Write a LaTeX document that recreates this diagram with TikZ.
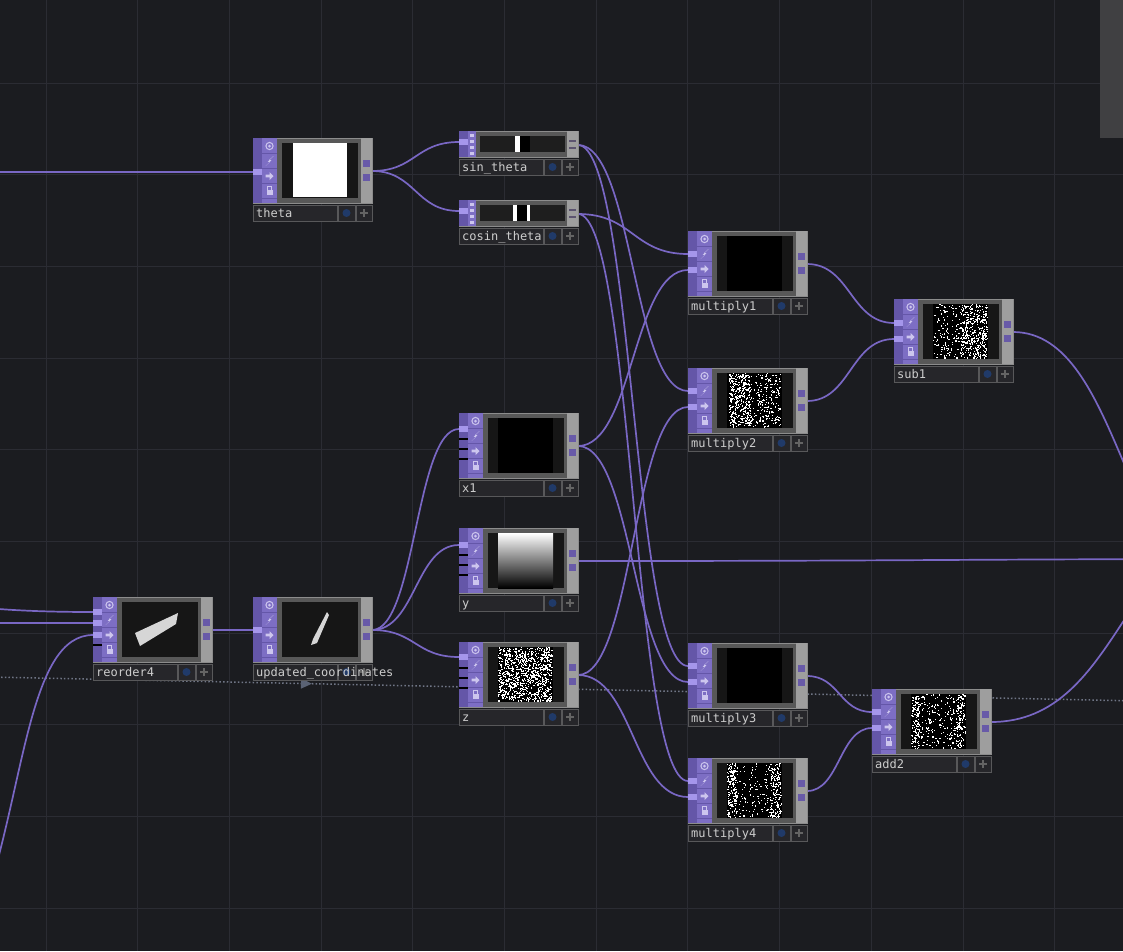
\documentclass[tikz,border=0pt]{standalone}
\usepackage{fontspec}
\setmonofont{DejaVu Sans Mono}
\usepackage{tikz}
\usetikzlibrary{calc}
\usetikzlibrary{arrows.meta}
\usetikzlibrary{decorations.markings}
\pgfdeclarelayer{bg}
\pgfsetlayers{bg,main}
\definecolor{tdbgcol}{RGB}{27,28,32}
\definecolor{tdgridcol}{RGB}{43,44,51}
\definecolor{tdwirecol}{RGB}{121,103,196}
\definecolor{tdstripcol}{RGB}{100,86,168}
\definecolor{tdiconcol}{RGB}{125,110,196}
\definecolor{tdiconfgcol}{RGB}{205,198,238}
\definecolor{tdtabcol}{RGB}{165,150,235}
\definecolor{tdedgecol}{RGB}{140,140,140}
\definecolor{tdgraycol}{RGB}{88,88,88}
\definecolor{tdviewcol}{RGB}{22,22,22}
\definecolor{tdrightcol}{RGB}{158,158,158}
\definecolor{tdportcol}{RGB}{104,90,168}
\definecolor{tdmarkcol}{RGB}{92,84,112}
\definecolor{tdnamecol}{RGB}{38,38,42}
\definecolor{tdnameedge}{RGB}{88,88,90}
\definecolor{tdtextcol}{RGB}{205,205,205}
\definecolor{tdbluecol}{RGB}{32,58,105}
\definecolor{tdpluscol}{RGB}{100,100,100}
\definecolor{tddotcol}{RGB}{112,118,134}
\definecolor{tdarrowcol}{RGB}{90,98,116}
\definecolor{tdscrollcol}{RGB}{64,64,66}
\definecolor{tdchopview}{RGB}{30,30,30}
\definecolor{tdimgcol}{RGB}{214,214,214}
\tikzstyle{tdframe}=[draw=tdedgecol,fill=tdgraycol,line width=1pt,anchor=north west,minimum width=119pt,minimum height=65pt,inner sep=0pt,outer sep=0pt]
\tikzstyle{tdstrip}=[fill=tdstripcol]
\tikzstyle{tdicons}=[fill=tdiconcol]
\tikzstyle{tdsep}=[draw=tdstripcol,line width=0.8pt]
\tikzstyle{tdicon}=[draw=tdiconfgcol,line width=1pt]
\tikzstyle{tdiconfg}=[fill=tdiconfgcol]
\tikzstyle{tdtab}=[fill=tdtabcol]
\tikzstyle{tdright}=[fill=tdrightcol]
\tikzstyle{tdport}=[fill=tdportcol]
\tikzstyle{tdmark}=[draw=tdmarkcol,line width=1.6pt]
\tikzstyle{tdview}=[fill=tdviewcol]
\tikzstyle{tdname}=[draw=tdnameedge,fill=tdnamecol,line width=0.8pt,anchor=north west,minimum width=84pt,minimum height=16pt,inner sep=0pt,outer sep=0pt]
\tikzstyle{tdbtn}=[draw=tdnameedge,fill=tdnamecol,line width=0.8pt,anchor=north west,minimum width=17pt,minimum height=16pt,inner sep=0pt,outer sep=0pt]
\tikzstyle{tdblue}=[fill=tdbluecol]
\tikzstyle{tdplus}=[draw=tdpluscol,line width=1.4pt]
\tikzstyle{tdtext}=[anchor=base west,inner sep=0pt,text=tdtextcol,font=\fontsize{12}{14}\selectfont\ttfamily]
\tikzstyle{tdwire}=[line width=1.7pt,color=tdwirecol]
\tikzstyle{tdgrid}=[draw=tdgridcol,line width=0.9pt]
\tikzstyle{tddot}=[draw=tddotcol,line width=1.5pt,dash pattern=on 1.5pt off 2.2pt]

% label bar under a node
\newcommand{\tdlabel}[2]{%
  \node[tdname] (#1-name) at ($(#1.south west)+(0,2)$) {};
  \node[tdbtn] (#1-dot) at ($(#1-name.north east)+(1,0)$) {};
  \fill[tdblue] (#1-dot.center) circle (4pt);
  \node[tdbtn,minimum width=16pt] (#1-add) at ($(#1-dot.north east)+(1,0)$) {};
  \draw[tdplus] ($(#1-add.center)+(-4,0)$) -- ++(8,0);
  \draw[tdplus] ($(#1-add.center)+(0,-4)$) -- ++(0,8);
  \node[tdtext] at ($(#1-name.north west)+(3,12)$) {#2};
}
% TOP node: name, x, y, label
\newcommand{\tdtop}[4]{%
  \node[tdframe] (#1) at (#2,#3) {};
  \fill[tdstrip] (#1.north west) rectangle ++(9,65);
  \fill[tdicons] ($(#1.north west)+(9,0)$) rectangle ++(15,65);
  \foreach \sy in {15.5,30.5,45.5,60.5}
    \draw[tdsep] ($(#1.north west)+(9,\sy)$) -- ++(15,0);
  \begin{scope}[shift={($(#1.north west)+(16.5,0)$)}]
    \draw[tdicon] (0,8) circle (3.6pt);
    \fill[tdiconfg] (0,8) circle (1.5pt);
    \fill[tdiconfg] (4,18) -- (-1.8,23.8) -- (0.6,23.8) -- (-4,28) -- (1.8,22.2) -- (-0.6,22.2) -- cycle;
    \fill[tdiconfg] (-4,36.7) -- (0,36.7) -- (0,34) -- (4,38) -- (0,42) -- (0,39.3) -- (-4,39.3) -- cycle;
    \fill[tdiconfg] (-3,52) rectangle (3,57);
    \draw[tdicon] (-1.8,52) -- (-1.8,48.8) -- (1.8,48.8) -- (1.8,52);
  \end{scope}
  \fill[tdright] ($(#1.north east)+(-11,0)$) rectangle ++(11,65);
  \fill[tdport] ($(#1.north east)+(-9,22)$) rectangle ++(7,7);
  \fill[tdport] ($(#1.north east)+(-9,36)$) rectangle ++(7,7);
  \fill[tdview] ($(#1.north west)+(29,5)$) rectangle ++(76,55);
  \tdlabel{#1}{#4}
  \coordinate (#1-img) at ($(#1.north west)+(39,5)$);
  \coordinate (#1-out) at ($(#1.north east)+(0,33)$);
}
% CHOP node: name, x, y, label
\newcommand{\tdchop}[4]{%
  \node[tdframe,minimum height=26pt] (#1) at (#2,#3) {};
  \fill[tdstrip] (#1.north west) rectangle ++(9,26);
  \fill[tdicons] ($(#1.north west)+(9,0)$) rectangle ++(8,26);
  \foreach \sy in {2.5,8.5,14.5,20.5}
    \fill[tdiconfg] ($(#1.north west)+(11,\sy)$) rectangle ++(4,3.5);
  \fill[tdright] ($(#1.north east)+(-11,0)$) rectangle ++(11,26);
  \draw[tdmark] ($(#1.north east)+(-9,10)$) -- ++(7,0);
  \draw[tdmark] ($(#1.north east)+(-9,17)$) -- ++(7,0);
  \fill[tdchopview] ($(#1.north west)+(21,5)$) rectangle ++(85,16);
  \tdlabel{#1}{#4}
  \coordinate (#1-img) at ($(#1.north west)+(21,5)$);
  \coordinate (#1-out) at ($(#1.north east)+(0,14)$);
}
% input tab: node, offset, coordinate
\newcommand{\tdin}[3]{%
  \fill[tdtab] ($(#1.north west)+(0,#2-3)$) rectangle ++(9,6);
  \coordinate (#3) at ($(#1.north west)+(0,#2)$);
}
\newcommand{\tdslot}[2]{\fill[black] ($(#1.north west)+(0,#2)$) rectangle ++(9,1.6);}
% noise dots: node, from, to, count
\newcommand{\tdnoise}[4]{%
  \begin{scope}[shift={(#1-img)}]
    \foreach \q in {1,...,#4}
      \fill[white] ({#2+rnd*(#3-#2)},{rnd*53.8}) rectangle ++(1.2,1.2);
  \end{scope}
}
% wire between two ports
\newcommand{\wire}[2]{%
  \draw[tdwire] let \p1=(#1), \p2=(#2), \n1={0.5*(\x2-\x1)} in
    (\p1) .. controls +(\n1,0pt) and +(-\n1,0pt) .. (\p2);
}

\begin{document}
\begin{tikzpicture}[x=1pt,y=-1pt]
\pgfmathsetseed{11}
\useasboundingbox (0,0) rectangle (1123,951);

% background and grid
\begin{pgfonlayer}{bg}
\fill[tdbgcol] (0,0) rectangle (1123,951);
\foreach \i in {0,...,11} \draw[tdgrid] ({46+91.7*\i},0) -- ++(0,951);
\foreach \i in {0,...,9} \draw[tdgrid] (0,{83+91.7*\i}) -- ++(1123,0);
\end{pgfonlayer}

% angle
\tdtop{theta}{253}{138}{theta}
\fill[white] ($(theta-img)+(1,0)$) rectangle ++(54,54);
\tdin{theta}{34}{theta-in}
\tdchop{sintheta}{459}{131}{sin\_theta}
\fill[white] ($(sintheta-img)+(35,0)$) rectangle ++(5,16);
\fill[black] ($(sintheta-img)+(40,0)$) rectangle ++(10,16);
\tdin{sintheta}{11}{sintheta-in}
\tdchop{costheta}{459}{200}{cosin\_theta}
\fill[white] ($(costheta-img)+(33,0)$) rectangle ++(4,16);
\fill[black] ($(costheta-img)+(37,0)$) rectangle ++(10,16);
\fill[white] ($(costheta-img)+(47,0)$) rectangle ++(3,16);
\tdin{costheta}{11}{costheta-in}

% coordinates
\tdtop{reorder}{93}{597}{reorder4}
\fill[tdimgcol] ($(reorder.north west)+(42,36)$) -- ($(reorder.north west)+(85,16)$) -- ($(reorder.north west)+(83,27)$) -- ($(reorder.north west)+(47,49)$) -- cycle;
\tdin{reorder}{15}{reorder-a}
\tdin{reorder}{26}{reorder-b}
\tdin{reorder}{38}{reorder-c}
\tdslot{reorder}{47}
\tdtop{update}{253}{597}{}
\fill[tdimgcol] ($(update.north west)+(74,15)$) -- ($(update.north west)+(76,18)$) -- ($(update.north west)+(64,46)$) -- ($(update.north west)+(58,48)$) -- ($(update.north west)+(60,42)$) -- cycle;
\node[tdtext] (updatetext) at ($(update-name.north west)+(3,12)$) {updated\_coordinates};
\tdin{update}{33}{update-in}

\tdtop{xone}{459}{413}{x1}
\fill[black] (xone-img) rectangle ++(55,55);
\tdin{xone}{16}{xone-in}
\tdslot{xone}{25} \tdslot{xone}{35} \tdslot{xone}{45}
\tdtop{ynode}{459}{528}{y}
\shade[top color=white,middle color=black!30,bottom color=black] (ynode-img) rectangle ++(55,55);
\tdin{ynode}{17}{ynode-in}
\tdslot{ynode}{26} \tdslot{ynode}{36} \tdslot{ynode}{46}
\tdtop{znode}{459}{642}{z}
\fill[black] (znode-img) rectangle ++(55,55);
\tdnoise{znode}{0}{53.8}{900}
\tdin{znode}{15}{znode-in}
\tdslot{znode}{25} \tdslot{znode}{35} \tdslot{znode}{45}

% products
\tdtop{mulone}{688}{231}{multiply1}
\fill[black] (mulone-img) rectangle ++(55,55);
\tdin{mulone}{23}{mulone-a}
\tdin{mulone}{39}{mulone-b}
\tdtop{multwo}{688}{368}{multiply2}
\fill[black] (multwo-img) rectangle ++(55,55);
\tdnoise{multwo}{2}{24}{380}
\tdnoise{multwo}{24}{31}{25}
\tdnoise{multwo}{31}{53.8}{170}
\tdin{multwo}{23}{multwo-a}
\tdin{multwo}{39}{multwo-b}
\tdtop{multhree}{688}{643}{multiply3}
\fill[black] (multhree-img) rectangle ++(55,55);
\tdin{multhree}{23}{multhree-a}
\tdin{multhree}{39}{multhree-b}
\tdtop{mulfour}{688}{758}{multiply4}
\fill[black] (mulfour-img) rectangle ++(55,55);
\tdnoise{mulfour}{0}{10}{170}
\tdnoise{mulfour}{10}{43}{110}
\tdnoise{mulfour}{43}{53.8}{170}
\tdin{mulfour}{23}{mulfour-a}
\tdin{mulfour}{39}{mulfour-b}

% results
\tdtop{subone}{894}{299}{sub1}
\fill[black] (subone-img) rectangle ++(55,55);
\tdnoise{subone}{0}{27}{130}
\tdnoise{subone}{27}{53.8}{380}
\tdin{subone}{24}{subone-a}
\tdin{subone}{40}{subone-b}
\tdtop{addtwo}{872}{689}{add2}
\fill[black] (addtwo-img) rectangle ++(55,55);
\tdnoise{addtwo}{0}{8}{130}
\tdnoise{addtwo}{8}{45}{180}
\tdnoise{addtwo}{45}{53.8}{140}
\tdin{addtwo}{23}{addtwo-a}
\tdin{addtwo}{39}{addtwo-b}

% off-screen ends
\coordinate (offA) at (-120,172);
\coordinate (offB) at (-200,596);
\coordinate (offC) at (-200,623);
\coordinate (offD) at (-14,900);
\coordinate (offE) at (1233,590);
\coordinate (offF) at (1256,520);
\coordinate (offG) at (1300,559);
\coordinate (dotA) at (-10,677);
\coordinate (dotB) at (1140,701);

% wires
\begin{pgfonlayer}{bg}
\begin{scope}
\clip (0,0) rectangle (1123,951);
\draw[tddot,postaction={decorate},decoration={markings,mark=at position 0.28 with {\arrow[solid,tdarrowcol]{Triangle[length=11pt,width=10pt]}}}] (dotA) -- (dotB);
\wire{offA}{theta-in}
\wire{theta-out}{sintheta-in}
\wire{theta-out}{costheta-in}
\wire{offB}{reorder-a}
\wire{offC}{reorder-b}
\draw[tdwire] (offD) .. controls +(39,-120) and +(-63,0) .. (reorder-c);
\wire{reorder-out}{update-in}
\wire{update-out}{xone-in}
\wire{update-out}{ynode-in}
\wire{update-out}{znode-in}
\wire{costheta-out}{mulone-a}
\wire{xone-out}{mulone-b}
\wire{sintheta-out}{multwo-a}
\wire{znode-out}{multwo-b}
\wire{sintheta-out}{multhree-a}
\wire{xone-out}{multhree-b}
\wire{costheta-out}{mulfour-a}
\wire{znode-out}{mulfour-b}
\wire{mulone-out}{subone-a}
\wire{multwo-out}{subone-b}
\wire{multhree-out}{addtwo-a}
\wire{mulfour-out}{addtwo-b}
\wire{subone-out}{offE}
\wire{ynode-out}{offG}
\wire{addtwo-out}{offF}
\end{scope}
\end{pgfonlayer}

% scroll bar
\fill[tdscrollcol] (1100,0) rectangle (1123,138);
\end{tikzpicture}
\end{document}
